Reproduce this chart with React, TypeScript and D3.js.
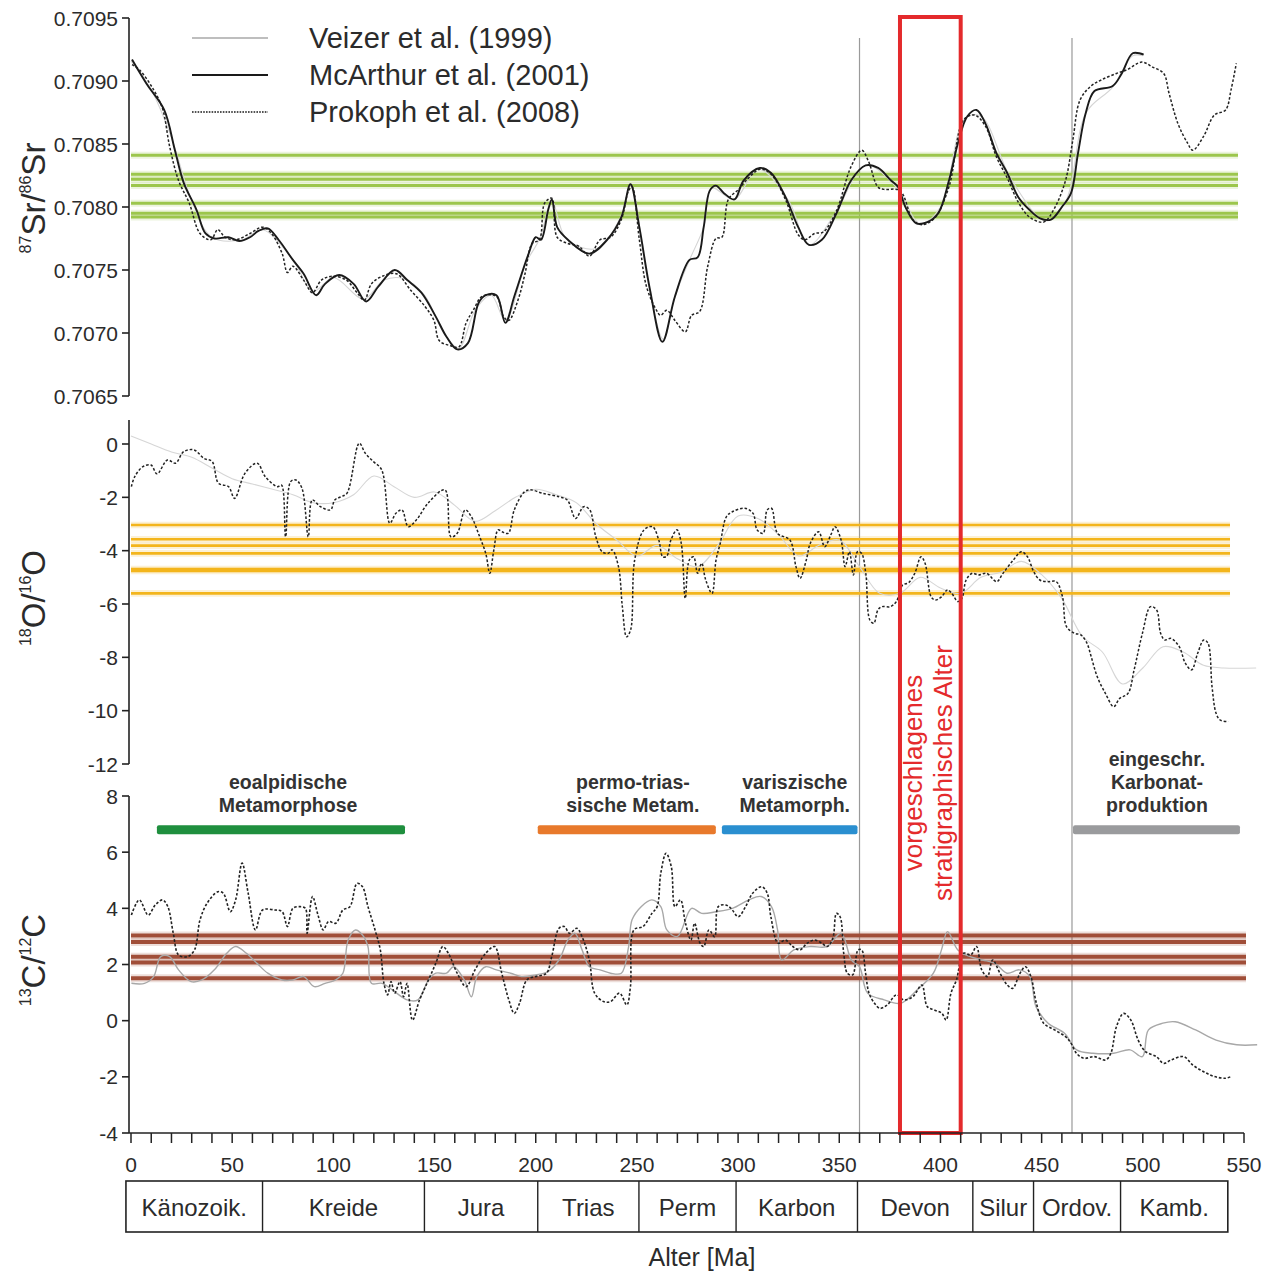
import React from "react";
import * as d3 from "d3";

type P = [number, number];

// ---------- axis ticks ----------
const ageMajorTicks = d3.range(0, 551, 50);
const ageMinorTicks = d3.range(0, 551, 10);
const srTicks = [0.7065, 0.707, 0.7075, 0.708, 0.7085, 0.709, 0.7095];
const oTicks = [0, -2, -4, -6, -8, -10, -12];
const cTicks = [8, 6, 4, 2, 0, -2, -4];

// ---------- Sr isotope curves ----------
const mcArthurSr: P[] = [
  [0.5, 0.70917], [7.6, 0.70898], [16.4, 0.70877], [21.7, 0.70845], [26.1, 0.70819], [32.3, 0.70798],
  [36.8, 0.70779], [41.2, 0.70775], [48.2, 0.70776], [53.5, 0.70773], [58.8, 0.70776], [63, 0.70781],
  [67.6, 0.70783], [72.9, 0.70774], [80, 0.70758], [85.3, 0.70747], [91.5, 0.7073], [95.9, 0.70739],
  [102.9, 0.70746], [110, 0.70739], [116.2, 0.70725], [122.3, 0.70737], [130.3, 0.7075], [136.5, 0.70742],
  [143.5, 0.70732], [150.6, 0.70713], [155.9, 0.70697], [161.2, 0.70687], [166.5, 0.70692], [171.8, 0.70724],
  [175.3, 0.7073], [180.6, 0.7073], [185, 0.70708], [189.4, 0.70729], [196.5, 0.70763], [200, 0.70776],
  [202.6, 0.70774], [206.2, 0.70798], [208, 0.70806], [210.6, 0.70784], [215.9, 0.70774], [226.5, 0.70763],
  [235.3, 0.70774], [242.3, 0.70792], [246.8, 0.70818], [251.2, 0.70784], [256.5, 0.70734], [262.6, 0.70693],
  [268.8, 0.70729], [276, 0.70758], [280, 0.7076], [283, 0.70784], [286, 0.70813], [289, 0.70817],
  [293, 0.70811], [298.2, 0.70806], [302.7, 0.70821], [310.8, 0.70831], [316.3, 0.70827], [323.4, 0.70808],
  [329.7, 0.70784], [335, 0.7077], [341.4, 0.70774], [348.6, 0.70795], [355.8, 0.70821], [363, 0.70833],
  [369.2, 0.70831], [375.6, 0.70821], [379, 0.70816], [382.7, 0.708], [388.1, 0.70787], [393.5, 0.70788],
  [398.9, 0.70795], [404.2, 0.70821], [408.7, 0.70851], [413.3, 0.70872], [417.8, 0.70877], [422.3, 0.70866],
  [427.6, 0.70843], [433, 0.70827], [438.4, 0.70808], [443.8, 0.70798], [449.2, 0.70791], [454.6, 0.7079],
  [460, 0.708], [464.5, 0.70811], [468, 0.70843], [471.7, 0.70874], [476.1, 0.70892], [485.1, 0.70896],
  [489.6, 0.70906], [495, 0.70922], [500.4, 0.70921],
];

const prokophSr: P[] = [
  [0.5, 0.70913], [4.1, 0.70909], [11.2, 0.70893], [15.6, 0.70878], [19.1, 0.70848], [23.5, 0.70821],
  [28.8, 0.70803], [34.1, 0.70779], [39.4, 0.70774], [42.9, 0.70782], [46.5, 0.70776], [51.7, 0.70774],
  [58.8, 0.70779], [65, 0.70784], [69.4, 0.70779], [74.7, 0.70763], [77.3, 0.70748], [80, 0.70753],
  [85.3, 0.70742], [89.7, 0.70732], [94.1, 0.70742], [99.4, 0.70745], [106.4, 0.70742], [111.7, 0.70732],
  [115.3, 0.70726], [118.8, 0.70739], [124.1, 0.70745], [131.2, 0.70747], [138.2, 0.70734], [145.3, 0.70721],
  [149.7, 0.7071], [152.3, 0.70694], [157.6, 0.7069], [162, 0.70689], [165.6, 0.70708], [169.1, 0.70718],
  [173.5, 0.70729], [180.6, 0.70729], [184.1, 0.70713], [186.7, 0.7071], [191.2, 0.70726], [194.7, 0.70747],
  [198.2, 0.70771], [201.8, 0.70774], [204.4, 0.70803], [207.9, 0.70807], [210.6, 0.70776], [215.9, 0.70771],
  [221.2, 0.70769], [226.5, 0.70761], [231.8, 0.70774], [237, 0.70776], [242.3, 0.7079], [245.9, 0.70813],
  [247.6, 0.70816], [251.2, 0.70774], [254.7, 0.70737], [259.7, 0.70718], [261.7, 0.70714], [264.8, 0.70718],
  [268.8, 0.7071], [273.9, 0.70701], [277, 0.70714], [281, 0.70717], [285, 0.70753], [289.1, 0.70775],
  [292, 0.70776], [295.2, 0.70806], [300.3, 0.70814], [304, 0.70821], [310.8, 0.7083], [316.3, 0.70826],
  [323.4, 0.70806], [329.7, 0.70778], [333, 0.70774], [337.8, 0.70779], [342, 0.7078], [348.6, 0.70797],
  [355.8, 0.70832], [361.1, 0.70845], [364.5, 0.70836], [369, 0.70816], [372, 0.70814], [380, 0.70813],
  [386.3, 0.7079], [390.8, 0.70786], [397, 0.70791], [404.2, 0.70816], [411.4, 0.70869], [416.8, 0.70873],
  [422.3, 0.70864], [427.6, 0.7084], [433, 0.70823], [438.4, 0.70804], [444, 0.70792], [451, 0.70788],
  [456, 0.70798], [461.8, 0.70821], [465.4, 0.70853], [469, 0.70885], [474.4, 0.70896], [479.7, 0.70901],
  [487, 0.70906], [492.3, 0.70909], [499.5, 0.70915], [504.9, 0.70911], [510.3, 0.70906], [513, 0.7089],
  [517.4, 0.70866], [522, 0.70851], [524.7, 0.70845], [530, 0.70856], [535.4, 0.70873], [540.9, 0.70877],
  [543.6, 0.70893], [546.2, 0.70914],
];

const veizerSr: P[] = [
  [0, 0.70916], [10, 0.70893], [20, 0.70855], [30, 0.70805], [40, 0.70776], [55, 0.70774], [65, 0.70782],
  [80, 0.70758], [90, 0.70733], [100, 0.70744], [115, 0.70727], [125, 0.70742], [135, 0.70743], [145, 0.7073],
  [155, 0.70699], [162, 0.70688], [170, 0.70718], [178, 0.7073], [185, 0.7071], [195, 0.70755], [202, 0.70775],
  [208, 0.70805], [215, 0.70775], [230, 0.70767], [242, 0.70792], [247, 0.70817], [255, 0.70745], [263, 0.70695],
  [268.8, 0.70729], [276, 0.70758], [283, 0.70784], [287, 0.70815], [298, 0.70806], [310, 0.7083], [325, 0.70805],
  [335, 0.7077], [348, 0.70795], [363, 0.70833], [378, 0.70816], [390, 0.70787], [400, 0.708], [412, 0.7087],
  [420, 0.70872], [435, 0.70822], [452, 0.70789], [462, 0.70805], [472, 0.70875], [485, 0.70895], [495, 0.7092],
  [500, 0.7092],
];

// ---------- O isotope curves ----------
const prokophO: P[] = [
  [0.2, -1.6], [1.8, -1.23], [5.9, -0.85], [9.9, -0.79], [12.9, -1.12], [18, -0.6], [22, -0.72], [26, -0.29],
  [31.1, -0.22], [36.1, -0.54], [40.1, -0.66], [43.2, -1.47], [48.2, -1.6], [51.2, -2.04], [56.3, -1.1],
  [62.3, -0.72], [66.4, -1.23], [72.4, -1.6], [74.4, -1.54], [76.4, -3.48], [78.9, -1.41], [81.5, -1.35],
  [84.5, -1.66], [87.6, -3.48], [89.6, -2.1], [93.6, -2.35], [98.6, -2.47], [100.7, -2.1], [103.7, -1.98],
  [106.7, -1.85], [112.8, 0.03], [115.8, -0.35], [119.8, -0.66], [123.9, -0.97], [127.9, -2.97], [130.9, -2.6],
  [133.9, -2.47], [137, -3.1], [141, -2.85], [147, -2.2], [155.1, -1.72], [158.1, -3.48], [161.2, -3.35],
  [165.2, -2.47], [168.2, -2.73], [172.3, -3.48], [175.3, -4.1], [177.3, -4.85], [179.3, -3.97], [181.4, -3.22],
  [183.3, -3.29], [186.4, -3.35], [189.4, -2.47], [194.5, -1.79], [197.5, -1.72], [203.5, -1.85], [211.6, -1.98],
  [215.6, -2.1], [219.7, -2.79], [223.7, -2.35], [226.7, -2.47], [229.7, -3.48], [232.8, -4.04], [235.8, -4.1],
  [237.8, -3.97], [240.9, -4.6], [242.8, -6.1], [244.9, -7.23], [246.9, -6.97], [248.9, -4.35], [253.5, -3.22],
  [257.7, -3.1], [260.8, -3.6], [262.8, -4.23], [264.8, -4.2], [266.8, -3.6], [269.8, -3.22], [271.9, -3.72],
  [273.9, -5.79], [275.9, -4.35], [278, -4.23], [280, -4.85], [282, -4.47], [284, -5.1], [287.1, -5.6],
  [289.1, -4.35], [291.2, -3.72], [294.2, -2.73], [297.2, -2.54], [303.3, -2.41], [307.4, -2.6], [309.4, -3.22],
  [312.4, -3.35], [314.4, -2.47], [316.5, -2.41], [319.5, -3.35], [325.6, -3.6], [328.6, -4.6], [330.6, -5.04],
  [333.7, -4.35], [335.7, -3.72], [339.8, -3.29], [342.8, -3.85], [345.8, -3.41], [347.9, -3.1], [350.9, -3.6],
  [352.9, -4.6], [355, -4.04], [357, -4.91], [359, -4.04], [361, -4.1], [363.1, -4.85], [365.1, -6.6],
  [367.1, -6.72], [369.1, -6.22], [371.1, -6.1], [375.2, -6.1], [378.2, -5.91], [381.3, -5.29], [384.3, -5.2],
  [387.3, -4.85], [390.4, -4.23], [392.4, -4.47], [395.4, -5.73], [397.5, -5.85], [400.5, -5.73], [403.5, -5.47],
  [405.6, -5.6], [408.6, -5.91], [410.6, -5.79], [412.7, -5.1], [415.7, -4.85], [418.7, -4.91], [422.8, -4.85],
  [427.8, -5.16], [430.9, -4.85], [436, -4.35], [440, -4.04], [443, -4.23], [446.1, -4.79], [449.1, -5.1],
  [453.1, -5.16], [457.2, -5.16], [460.3, -5.73], [462.3, -6.85], [466.3, -7.1], [469.4, -7.16], [472.4, -7.47],
  [474.5, -7.98], [477.5, -8.73], [481.5, -9.35], [485.6, -9.85], [488.6, -9.54], [492.7, -9.35], [495.7, -8.47],
  [499.8, -7.1], [503.8, -6.1], [506.8, -6.22], [508.8, -7.1], [510.9, -7.35], [513.9, -7.29], [518, -7.6],
  [521, -8.22], [524.1, -8.47], [527.1, -7.85], [530.1, -7.35], [532.2, -7.47], [534.2, -9.1], [536.2, -10.1],
  [538.2, -10.35], [542.3, -10.41],
];

const veizerO: P[] = [
  [0, 0.3], [10, 0], [20, -0.3], [30, -0.5], [40, -0.9], [50, -1.3], [60, -1.5], [70, -1.7], [80, -1.9],
  [90, -2.2], [100, -2.2], [110, -1.9], [120, -1.2], [130, -1.6], [140, -2.0], [150, -1.8], [160, -2.3],
  [170, -2.9], [180, -2.5], [190, -2.0], [200, -1.7], [210, -1.9], [220, -2.2], [230, -3.0], [240, -3.6],
  [250, -4.2], [260, -3.8], [270, -4.3], [280, -4.6], [290, -3.8], [300, -2.7], [310, -2.8], [320, -3.4],
  [330, -4.2], [340, -3.8], [350, -3.6], [360, -4.6], [370, -5.6], [380, -5.6], [390, -5.0], [400, -5.4],
  [410, -5.6], [420, -5.0], [430, -4.8], [440, -4.4], [450, -4.9], [460, -5.8], [470, -7.2], [480, -7.8],
  [490, -9.0], [500, -8.4], [510, -7.6], [520, -7.8], [530, -8.3], [540, -8.4], [556, -8.4],
];

// ---------- C isotope curves ----------
const prokophC: P[] = [
  [0.2, 3.76], [4.1, 4.3], [8.5, 3.76], [12, 4.12], [15.6, 4.3], [18.2, 4.06], [20.9, 3.11], [23.5, 2.34],
  [27.9, 2.28], [31.4, 2.52], [34.1, 3.59], [37.6, 4.18], [42.9, 4.59], [45.6, 4.54], [49.1, 3.88], [51.7, 4.3],
  [54.9, 5.61], [57.9, 4.54], [61.5, 3.23], [65, 3.94], [71.2, 3.94], [74.7, 3.88], [77.3, 3.35], [80, 4.0],
  [83.5, 4.06], [86.2, 4.0], [87, 3.11], [89.7, 4.42], [92.4, 3.76], [95, 3.23], [97.6, 3.53], [101.2, 3.47],
  [104.7, 3.94], [108.2, 4.06], [111.7, 4.89], [114.4, 4.77], [117.1, 4.06], [120.6, 3.23], [123.2, 2.52],
  [125, 1.33], [126.8, 0.92], [128.5, 1.39], [130.3, 0.98], [132.9, 1.39], [134.7, 0.85], [136.4, 1.33],
  [139.1, 0.02], [142.6, 0.74], [147, 1.45], [150.6, 2.04], [154.1, 2.64], [156.8, 2.4], [161.2, 1.69],
  [165.6, 1.21], [170, 1.81], [175.3, 2.4], [179.7, 2.64], [183.2, 1.69], [186.7, 0.74], [189.4, 0.26],
  [192, 0.62], [195.6, 1.45], [200, 1.57], [205.3, 1.69], [207.9, 2.28], [211.5, 3.29], [214.1, 3.35],
  [216.7, 3.11], [220.3, 3.29], [222.9, 2.99], [226.5, 2.16], [229.1, 0.98], [233.5, 0.68], [237, 0.68],
  [241.4, 0.98], [245, 0.56], [246.8, 1.21], [248.5, 3.23], [253, 3.35], [257.4, 3.82], [260, 4.06],
  [261.8, 5.25], [264.4, 5.96], [267, 5.48], [268.8, 4.06], [271.5, 4.3], [274, 3.47], [276.7, 2.87],
  [278.5, 3.47], [281.2, 2.76], [283, 2.64], [285.6, 3.23], [288.4, 2.99], [290.2, 4.06], [293.8, 4.12],
  [296.5, 4.0], [300.1, 3.7], [303.7, 4.06], [307.2, 4.54], [311.7, 4.77], [314.4, 4.54], [316.2, 3.7],
  [319.8, 2.76], [323.4, 2.87], [327, 2.64], [330.6, 2.52], [334.2, 2.76], [337.8, 2.87], [341.4, 2.76],
  [344.1, 2.64], [346.8, 2.93], [348.6, 3.82], [350.4, 3.7], [352.2, 2.4], [354, 1.69], [356.6, 1.63],
  [359.3, 2.52], [361.1, 2.52], [363, 1.69], [364.7, 0.98], [367.4, 0.62], [370.1, 0.44], [373.7, 0.56],
  [378.2, 0.92], [381.8, 0.74], [386.3, 0.85], [390.8, 1.27], [393.5, 0.5], [397, 0.38], [400.7, 0.26],
  [402.8, 0.02], [405.2, 0.98], [407.9, 1.45], [411.4, 2.4], [415, 2.34], [417.8, 2.64], [420.4, 1.81],
  [423.2, 1.57], [425.8, 2.16], [429.4, 1.69], [433, 1.27], [435.7, 1.15], [439.3, 1.69], [442, 1.92],
  [444.7, 1.57], [447.4, 0.62], [451, -0.09], [456.4, -0.33], [461.8, -0.57], [464.5, -0.8], [467.2, -1.16],
  [470.8, -1.34], [476.1, -1.28], [481.6, -1.4], [484.2, -1.16], [487, -0.21], [490.5, 0.26], [494.1, 0.02],
  [497.7, -0.69], [501.3, -1.1], [506.7, -1.28], [510.3, -1.52], [513.9, -1.4], [520.2, -1.28], [524.7, -1.58],
  [530.1, -1.82], [535.4, -1.99], [540.8, -2.05], [543.6, -1.99],
];

const veizerC: P[] = [
  [0.2, 1.33], [6.7, 1.33], [11.2, 1.57], [14.7, 2.28], [19.1, 2.28], [23.5, 1.81], [29.7, 1.39], [35, 1.45],
  [41.2, 1.81], [47.3, 2.4], [51.7, 2.64], [57, 2.4], [62.3, 2.04], [67.6, 1.69], [74.7, 1.45], [80, 1.45],
  [85.3, 1.57], [90.6, 1.21], [95.9, 1.33], [101.2, 1.45], [104.7, 1.69], [107.3, 2.87], [110.9, 3.23],
  [114.4, 3.05], [117.1, 2.64], [118.8, 1.33], [124.1, 1.33], [131.2, 0.98], [136.4, 0.74], [141.8, 0.74],
  [147, 1.45], [150.6, 1.69], [155.9, 1.69], [159.4, 1.92], [164.7, 1.45], [168.2, 0.85], [170.9, 1.57],
  [175.3, 1.92], [180.6, 1.81], [187.6, 1.69], [192.9, 1.57], [200, 1.63], [206.2, 1.75], [211.5, 2.16],
  [215.9, 2.87], [219.4, 3.11], [222.9, 2.52], [226.5, 1.92], [231.8, 1.81], [237, 1.69], [242.3, 1.69],
  [245.9, 2.64], [247.6, 3.59], [252.1, 4.06], [257.4, 4.3], [261.8, 4.06], [264.8, 3.23], [270, 3.0],
  [277, 4.0], [282, 3.82], [289.1, 3.88], [297.2, 4.0], [305.3, 4.3], [311.4, 4.42], [316.5, 4.06],
  [319.5, 3.23], [321.5, 2.16], [327.6, 2.52], [335.7, 2.64], [343.8, 2.64], [350.9, 3.11], [356, 2.16],
  [360, 1.92], [364, 0.98], [372.2, 0.74], [380.3, 0.62], [388.4, 1.09], [396.5, 1.69], [400.5, 2.52],
  [403.5, 3.17], [408.6, 2.52], [414.7, 2.28], [420.8, 2.16], [426.9, 2.04], [432.9, 1.69], [439, 1.81],
  [444.2, 1.57], [447.2, 0.5], [453.2, -0.09], [461.3, -0.45], [467.3, -1.04], [475.4, -1.16], [485.6, -1.16],
  [493.7, -1.04], [499.8, -1.28], [502.8, -0.33], [509.9, -0.09], [516, -0.04], [526.1, -0.33], [536.2, -0.69],
  [546.4, -0.86], [556.5, -0.86],
];

// ---------- reference lines (sample values) ----------
const srRefLines = [0.70841, 0.70826, 0.70822, 0.70817, 0.70803, 0.70795, 0.70792];
const oRefLines = [-3.04, -3.57, -3.81, -4.1, -4.69, -4.76, -5.6];
const cRefLines = [3.03, 2.8, 2.28, 2.07, 1.51];

// ---------- geological periods ----------
const periodNames = ["Känozoik.", "Kreide", "Jura", "Trias", "Perm", "Karbon", "Devon", "Silur", "Ordov.", "Kamb."];
const periodBounds = [-2.5, 65, 145, 201, 251, 299, 359, 416, 446, 489, 542];

// ---------- metamorphic phases ----------
const phaseLabels = [
  ["eoalpidische", "Metamorphose"],
  ["permo-trias-", "sische Metam."],
  ["variszische", "Metamorph."],
  ["eingeschr.", "Karbonat-", "produktion"],
];
const phaseFrom = [12.8, 201, 292, 465.5];
const phaseTo = [135.4, 289, 359, 548];
const phaseLabelAge = [77.6, 248, 328, 507];
const phaseColors = ["#1f8f3e", "#e8792b", "#2a8fd0", "#9a9b9d"];

const boundaryAges = [360, 465];
const proposedAge = [380, 410];

const legendNames = ["Veizer et al. (1999)", "McArthur et al. (2001)", "Prokoph et al. (2008)"];

export default function App() {
  const x = d3.scaleLinear().domain([0, 550]).range([131, 1244]);
  const ySr = d3.scaleLinear().domain([0.7065, 0.7095]).range([396, 18]);
  const yO = d3.scaleLinear().domain([-12, 0]).range([764, 444]);
  const yC = d3.scaleLinear().domain([-4, 8]).range([1133, 796]);

  const mk = (y: d3.ScaleLinear<number, number>) =>
    d3.line<P>().x((d) => x(d[0])).y((d) => y(d[1])).curve(d3.curveCatmullRom.alpha(0.5));
  const lSr = mk(ySr);
  const lO = mk(yO);
  const lC = mk(yC);

  const font = "'Liberation Sans', Arial, Helvetica, sans-serif";
  const txt = "#2b2b2b";
  const axisX = 129;
  const dash = "2.6,1.9";

  const refLine = (v: number, y: d3.ScaleLinear<number, number>, x2: number, color: string, w: number, key: string) => (
    <g key={key}>
      <line x1={x(0)} x2={x2} y1={y(v)} y2={y(v)} stroke={color} strokeWidth={w + 4} opacity={0.18} />
      <line x1={x(0)} x2={x2} y1={y(v)} y2={y(v)} stroke={color} strokeWidth={w} />
    </g>
  );

  const yAxis = (ticks: number[], y: d3.ScaleLinear<number, number>, top: number, bottom: number, fmt: (v: number) => string, key: string) => (
    <g key={key}>
      <line x1={axisX} x2={axisX} y1={top} y2={bottom} stroke="#222" strokeWidth={1.6} />
      {ticks.map((t) => (
        <g key={t}>
          <line x1={axisX - 7} x2={axisX} y1={y(t)} y2={y(t)} stroke="#222" strokeWidth={1.6} />
          <text x={axisX - 11} y={y(t)} dy="0.36em" textAnchor="end" fontSize={21} fill={txt}>
            {fmt(t)}
          </text>
        </g>
      ))}
    </g>
  );

  const yTitle = (sup1: string, el1: string, sup2: string, el2: string, cy: number) => (
    <text transform={`translate(45,${cy}) rotate(-90)`} textAnchor="middle" fontSize={33} fill={txt}>
      <tspan fontSize={16} dy={-14}>{sup1}</tspan>
      <tspan dy={14}>{el1}/</tspan>
      <tspan fontSize={16} dy={-14}>{sup2}</tspan>
      <tspan dy={14}>{el2}</tspan>
    </text>
  );

  const fmtSr = d3.format(".4f");

  return (
    <svg
      width={1272}
      height={1272}
      style={{ position: "absolute", left: 0, top: 0, background: "#fff" }}
      fontFamily={font}
    >
      <rect x={0} y={0} width={1272} height={1272} fill="#fff" />

      {/* boundary lines */}
      {boundaryAges.map((a) => (
        <line key={a} x1={x(a)} x2={x(a)} y1={38} y2={1133} stroke="#9a9a9a" strokeWidth={1.2} />
      ))}

      {/* reference lines */}
      {srRefLines.map((v, i) => refLine(v, ySr, 1238, "#9cc64c", 3, "sr" + i))}
      {oRefLines.map((v, i) => refLine(v, yO, 1230, "#f3b51c", 2.6, "o" + i))}
      {cRefLines.map((v, i) => refLine(v, yC, 1246, "#a04e38", 4, "c" + i))}

      {/* Sr curves */}
      <path d={lSr(veizerSr) || ""} fill="none" stroke="#d4d4d4" strokeWidth={1.1} />
      <path d={lSr(prokophSr) || ""} fill="none" stroke="#222" strokeWidth={1.5} strokeDasharray={dash} />
      <path d={lSr(mcArthurSr) || ""} fill="none" stroke="#1a1a1a" strokeWidth={1.9} />

      {/* O curves */}
      <path d={lO(veizerO) || ""} fill="none" stroke="#d6d6d6" strokeWidth={1.1} />
      <path d={lO(prokophO) || ""} fill="none" stroke="#222" strokeWidth={1.5} strokeDasharray={dash} />

      {/* C curves */}
      <path d={lC(veizerC) || ""} fill="none" stroke="#a8a8a8" strokeWidth={1.4} />
      <path d={lC(prokophC) || ""} fill="none" stroke="#222" strokeWidth={1.6} strokeDasharray={dash} />

      {/* metamorphic phases */}
      {phaseLabels.map((lines, i) => {
        const cx = x(phaseLabelAge[i]);
        const n = lines.length;
        return (
          <g key={i}>
            <rect
              x={x(phaseFrom[i])}
              y={yC(6.8) - 4.5}
              width={x(phaseTo[i]) - x(phaseFrom[i])}
              height={9}
              rx={2}
              fill={phaseColors[i]}
            />
            {lines.map((s, j) => (
              <text
                key={j}
                x={cx}
                y={812 - (n - 1 - j) * 23}
                textAnchor="middle"
                fontSize={19.5}
                fontWeight="bold"
                fill="#333"
              >
                {s}
              </text>
            ))}
          </g>
        );
      })}

      {/* proposed stratigraphic age */}
      <rect
        x={x(proposedAge[0])}
        y={17}
        width={x(proposedAge[1]) - x(proposedAge[0])}
        height={1133 - 17}
        fill="none"
        stroke="#e42a2c"
        strokeWidth={4}
      />
      <text transform={`translate(922,773) rotate(-90)`} textAnchor="middle" fontSize={26} fill="#e42a2c">
        vorgeschlagenes
      </text>
      <text transform={`translate(952,773) rotate(-90)`} textAnchor="middle" fontSize={26} fill="#e42a2c">
        stratigraphisches Alter
      </text>

      {/* y axes */}
      {yAxis(srTicks, ySr, 18, 396, (v) => fmtSr(v), "ax-sr")}
      {yAxis(oTicks, yO, 420, 764, (v) => String(v), "ax-o")}
      {yAxis(cTicks, yC, 796, 1133, (v) => String(v), "ax-c")}

      {yTitle("87", "Sr", "86", "Sr", 198)}
      {yTitle("18", "O", "16", "O", 598)}
      {yTitle("13", "C", "12", "C", 960)}

      {/* x axis */}
      <line x1={axisX} x2={x(550)} y1={1133} y2={1133} stroke="#222" strokeWidth={1.6} />
      {ageMinorTicks.map((t) => (
        <line key={t} x1={x(t)} x2={x(t)} y1={1133} y2={1143} stroke="#222" strokeWidth={1.5} />
      ))}
      {ageMajorTicks.map((t) => (
        <text key={t} x={x(t)} y={1172} textAnchor="middle" fontSize={21} fill={txt}>
          {t}
        </text>
      ))}

      {/* periods */}
      <rect
        x={x(periodBounds[0])}
        y={1181}
        width={x(periodBounds[periodBounds.length - 1]) - x(periodBounds[0])}
        height={51}
        fill="none"
        stroke="#222"
        strokeWidth={1.6}
      />
      {periodBounds.slice(1, -1).map((b) => (
        <line key={b} x1={x(b)} x2={x(b)} y1={1181} y2={1232} stroke="#222" strokeWidth={1.4} />
      ))}
      {periodNames.map((n, i) => (
        <text
          key={n}
          x={(x(periodBounds[i]) + x(periodBounds[i + 1])) / 2}
          y={1216}
          textAnchor="middle"
          fontSize={24}
          fill={txt}
        >
          {n}
        </text>
      ))}
      <text x={702} y={1266} textAnchor="middle" fontSize={25} fill={txt}>
        Alter [Ma]
      </text>

      {/* legend */}
      {legendNames.map((n, i) => {
        const ly = 38 + i * 37;
        return (
          <g key={n}>
            <line
              x1={192}
              x2={268}
              y1={ly}
              y2={ly}
              stroke={i === 0 ? "#a8a8a8" : "#1a1a1a"}
              strokeWidth={i === 1 ? 1.9 : 1.4}
              strokeDasharray={i === 2 ? "1.6,1.2" : undefined}
            />
            <text x={309} y={ly + 10} fontSize={29} fill={txt}>
              {n}
            </text>
          </g>
        );
      })}
    </svg>
  );
}
